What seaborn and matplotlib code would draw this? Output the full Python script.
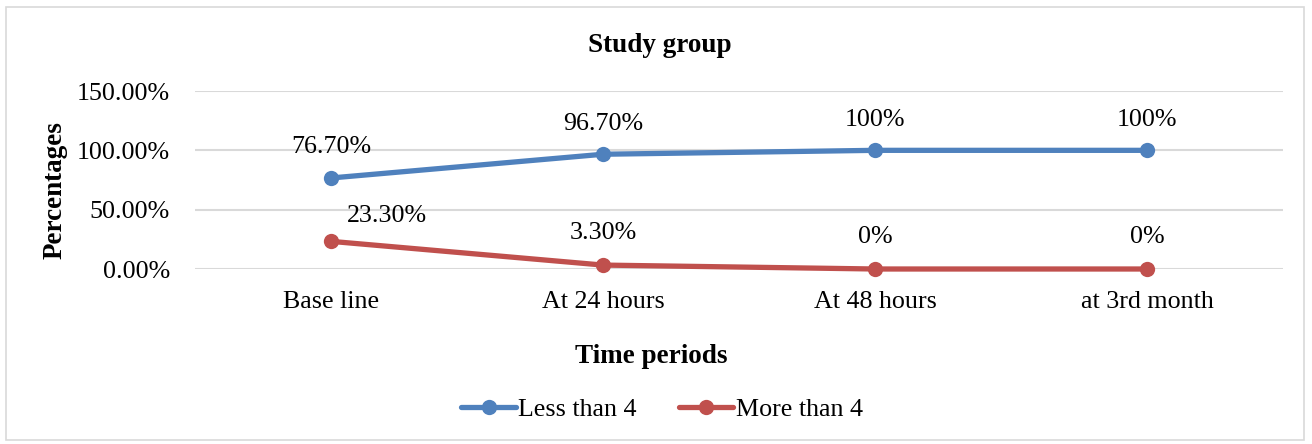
import matplotlib
matplotlib.use("Agg")
import matplotlib.pyplot as plt
import seaborn as sns
import pandas as pd
from matplotlib.patches import Rectangle
from matplotlib.lines import Line2D

categories = ["Base line", "At 24 hours", "At 48 hours", "at 3rd month"]
less_than_4 = [0.767, 0.967, 1.00, 1.00]
more_than_4 = [0.233, 0.033, 0.00, 0.00]
less_labels = ["76.70%", "96.70%", "100%", "100%"]
more_labels = ["23.30%", "3.30%", "0%", "0%"]
yticks = [0.0, 0.5, 1.0, 1.5]
ytick_labels = ["0.00%", "50.00%", "100.00%", "150.00%"]

sns.set_theme(style="white")
plt.rcParams["font.family"] = ["Liberation Serif", "DejaVu Serif"]
plt.rcParams["text.color"] = "black"
plt.rcParams["xtick.color"] = "black"
plt.rcParams["ytick.color"] = "black"

df = pd.DataFrame({
    "period": categories * 2,
    "x": list(range(len(categories))) * 2,
    "value": less_than_4 + more_than_4,
    "series": ["Less than 4"] * 4 + ["More than 4"] * 4,
})

FS = 18.7
FSB = 19.5
W, H = 1312, 444
fig = plt.figure(figsize=(W / 100, H / 100), dpi=100)
ax = fig.add_axes([195 / W, 1 - 269 / H, 1088 / W, 178 / H])

palette = {"Less than 4": "#4F81BD", "More than 4": "#C0504D"}
sns.lineplot(data=df, x="x", y="value", hue="series", palette=palette,
             marker="o", markersize=11, markeredgewidth=0, linewidth=3.8,
             ax=ax, legend=False, zorder=3)
for ln in ax.lines:
    ln.set_clip_on(False)

ax.set_xlim(-0.5, 3.5)
ax.set_ylim(0, 1.5)
ax.set_yticks(yticks)
ax.set_yticklabels(ytick_labels, fontsize=FS)
ax.set_xticks(range(len(categories)))
ax.set_xticklabels(categories, fontsize=FS)
ax.tick_params(axis="y", length=0, pad=18)
ax.tick_params(axis="x", length=0, pad=16)
ax.yaxis.grid(True, color="#D9D9D9", linewidth=1.5)
ax.xaxis.grid(False)
for s in ax.spines.values():
    s.set_visible(False)
ax.set_xlabel("")
ax.set_ylabel("")

for i, (v, t) in enumerate(zip(less_than_4, less_labels)):
    ax.annotate(t, (i, v), xytext=(0, 22), textcoords="offset points",
                ha="center", va="center", fontsize=FS, color="black")
for i, (v, t) in enumerate(zip(more_than_4, more_labels)):
    off = (40, 18) if i == 0 else (0, 23)
    ax.annotate(t, (i, v), xytext=off, textcoords="offset points",
                ha="center", va="center", fontsize=FS, color="black")

fig.text(660 / W, 1 - 45 / H, "Study group", ha="center", va="center",
         fontsize=FSB, fontweight="bold")
fig.text(651 / W, 1 - 356 / H, "Time periods", ha="center", va="center",
         fontsize=FSB, fontweight="bold")
fig.text(55 / W, 1 - 190 / H, "Percentages", ha="center", va="center",
         rotation=90, fontsize=FSB, fontweight="bold")

handles = [Line2D([0], [0], color=palette[k], lw=3.8, marker="o", markersize=11,
                  markeredgewidth=0) for k in ["Less than 4", "More than 4"]]
fig.legend(handles, ["Less than 4", "More than 4"], loc="center",
           bbox_to_anchor=(662 / W, 1 - 409 / H), ncol=2, frameon=False,
           fontsize=FS, handlelength=2.1, handletextpad=0.1, columnspacing=1.6)

fig.patches.append(Rectangle((6 / W, 4 / H), 1298 / W, 433 / H, transform=fig.transFigure,
                             fill=False, edgecolor="#D9D9D9", linewidth=1.2))

fig.savefig("out.png", dpi=100)
